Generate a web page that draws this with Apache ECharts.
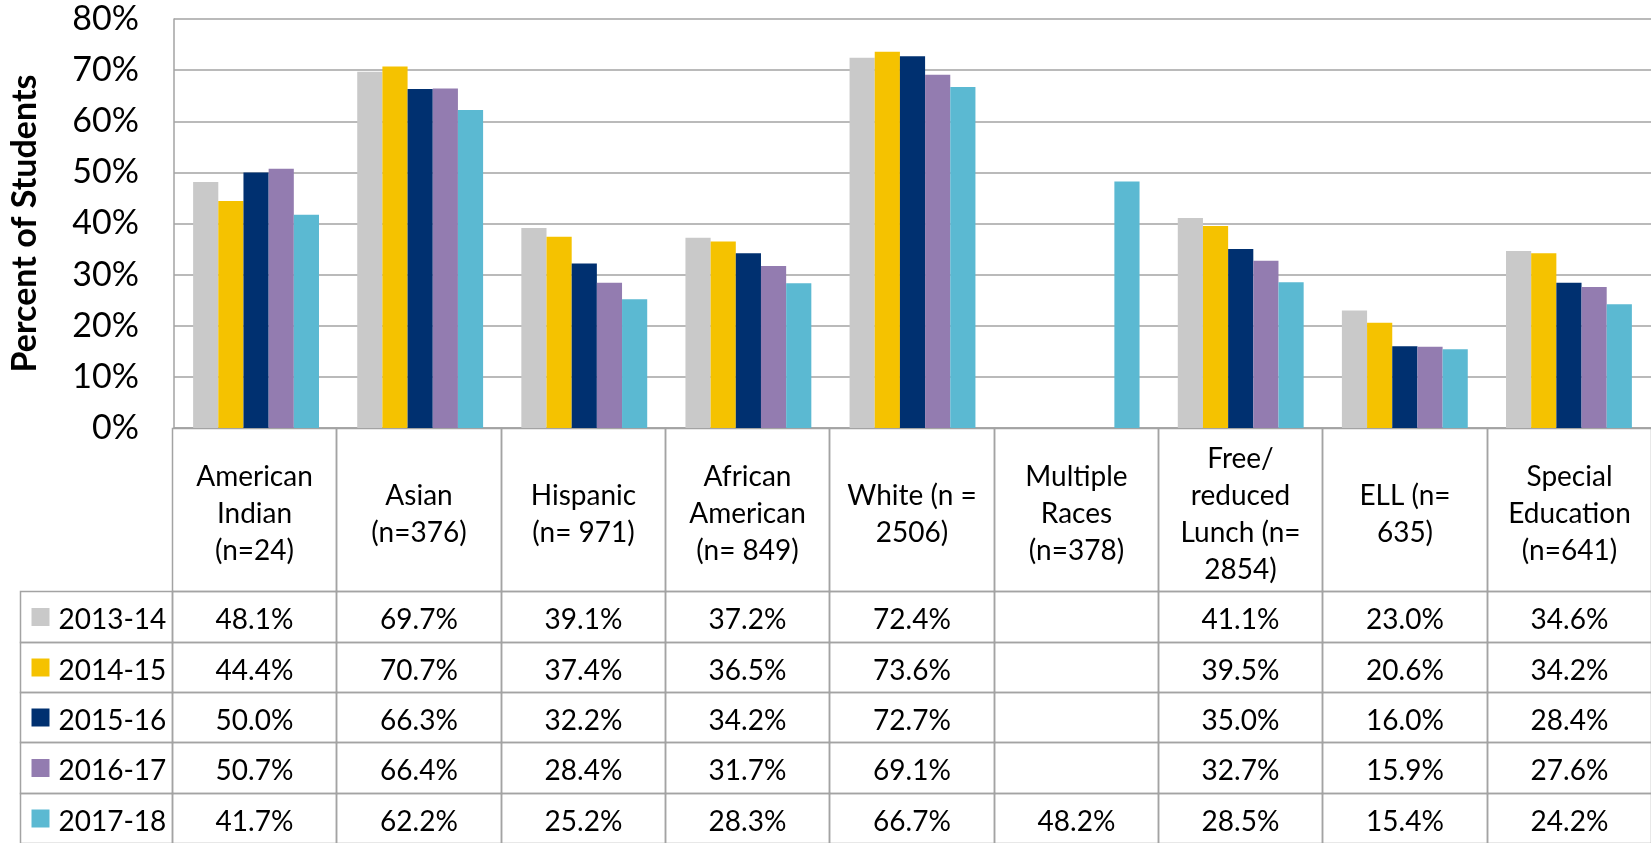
<!DOCTYPE html>
<html><head><meta charset="utf-8">
<script src="https://cdn.jsdelivr.net/npm/echarts@6/dist/echarts.min.js"></script>
<style>html,body{margin:0;padding:0;background:#fff}#c{width:1651px;height:843px}</style>
</head><body><div id="c"></div>
<script>
// ---- data ----
const categories = ["American\nIndian\n(n=24)", "Asian\n(n=376)", "Hispanic\n(n= 971)", "African\nAmerican\n(n= 849)", "White (n =\n2506)", "Multiple\nRaces\n(n=378)", "Free/\nreduced\nLunch (n=\n2854)", "ELL (n=\n635)", "Special\nEducation\n(n=641)"];
const years = ["2013-14", "2014-15", "2015-16", "2016-17", "2017-18"];
const v2013_14 = [48.1, 69.7, 39.1, 37.2, 72.4, null, 41.1, 23.0, 34.6];
const v2014_15 = [44.4, 70.7, 37.4, 36.5, 73.6, null, 39.5, 20.6, 34.2];
const v2015_16 = [50.0, 66.3, 32.2, 34.2, 72.7, null, 35.0, 16.0, 28.4];
const v2016_17 = [50.7, 66.4, 28.4, 31.7, 69.1, null, 32.7, 15.9, 27.6];
const v2017_18 = [41.7, 62.2, 25.2, 28.3, 66.7, 48.2, 28.5, 15.4, 24.2];
const yMin = 0, yMax = 80, yStep = 10;
const yTitle = "Percent of Students";

// ---- style ----
const seriesValues = [v2013_14, v2014_15, v2015_16, v2016_17, v2017_18];
const colors = ["#C9C9C9", "#F5C200", "#003070", "#937CB0", "#5BB9D2"];
const FONT = "Lato";
const LINE = "#a3a3a3";
const HEADER_H = 3.25;      // header row height in row units
const LEG_X = -153 / 165;   // legend column left edge in column units

const chart = echarts.init(document.getElementById('c'), null, {renderer: 'canvas'});

const tableData = [];
for (let r = -1; r < years.length; r++) {
  for (let c = -1; c < categories.length; c++) {
    if (r === -1 && c === -1) continue;
    tableData.push([c, r]);
  }
}

function renderCell(params, api) {
  const c = api.value(0), r = api.value(1);
  const x0 = c < 0 ? LEG_X : c, x1 = c < 0 ? 0 : c + 1;
  const y0 = r < 0 ? 0 : HEADER_H + r, y1 = r < 0 ? HEADER_H : HEADER_H + r + 1;
  const p0 = api.coord([x0, y0]), p1 = api.coord([x1, y1]);
  const X0 = Math.round(p0[0]) + 0.5, Y0 = Math.round(p0[1]) + 0.5;
  const X1 = Math.round(p1[0]) + 0.5, Y1 = Math.round(p1[1]) + 0.5;
  const cx = (X0 + X1) / 2, cy = (Y0 + Y1) / 2;
  const children = [{
    type: 'rect', silent: true,
    shape: {x: X0, y: Y0, width: X1 - X0, height: Y1 - Y0},
    style: {fill: null, stroke: LINE, lineWidth: 1.5}
  }];
  if (r < 0) {
    children.push({type: 'text', silent: true, style: {
      text: categories[c], x: cx, y: cy + 4, align: 'center', verticalAlign: 'middle',
      font: '28px ' + FONT, lineHeight: 37, fill: '#000'
    }});
  } else if (c < 0) {
    children.push({type: 'rect', silent: true,
      shape: {x: X0 + 11, y: cy - 9, width: 18, height: 18},
      style: {fill: colors[r]}});
    children.push({type: 'text', silent: true, style: {
      text: years[r], x: X0 + 38, y: cy + 3, align: 'left', verticalAlign: 'middle',
      font: '28px ' + FONT, fill: '#000'
    }});
  } else {
    const v = seriesValues[r][c];
    if (v != null) {
      children.push({type: 'text', silent: true, style: {
        text: v.toFixed(1) + '%', x: cx, y: cy + 3, align: 'center', verticalAlign: 'middle',
        font: '28px ' + FONT, fill: '#000'
      }});
    }
  }
  return {type: 'group', children};
}

const option = {
  backgroundColor: '#fff',
  animation: false,
  textStyle: {fontFamily: FONT},
  grid: [
    {left: 172, top: 19, width: 1485, height: 409},
    {left: 172, top: 428, width: 1485, height: 418.6}
  ],
  xAxis: [
    {type: 'category', gridIndex: 0, data: categories,
     axisLine: {show: true, lineStyle: {color: LINE, width: 1.5}},
     axisTick: {show: false}, axisLabel: {show: false}, splitLine: {show: false}},
    {type: 'value', gridIndex: 1, min: 0, max: 9, show: false}
  ],
  yAxis: [
    {type: 'value', gridIndex: 0, min: yMin, max: yMax, interval: yStep,
     name: yTitle, nameLocation: 'middle', nameGap: 132,
     nameTextStyle: {fontFamily: FONT, fontWeight: 'bold', fontSize: 34, color: '#000'},
     axisLine: {show: true, lineStyle: {color: LINE, width: 1.5}},
     axisTick: {show: false},
     axisLabel: {formatter: '{value}%', fontFamily: FONT, fontSize: 34, color: '#000', margin: 35},
     splitLine: {show: true, lineStyle: {color: LINE, width: 1.5}}},
    {type: 'value', gridIndex: 1, min: 0, max: HEADER_H + years.length, inverse: true, show: false}
  ],
  series: seriesValues.map((vals, i) => ({
    type: 'bar', name: years[i], xAxisIndex: 0, yAxisIndex: 0,
    data: vals, barGap: '0%', barCategoryGap: '23.3%',
    itemStyle: {color: colors[i]}
  })).concat([{
    type: 'custom', xAxisIndex: 1, yAxisIndex: 1, clip: false,
    data: tableData, renderItem: renderCell, silent: true
  }])
};
chart.setOption(option);
</script>
</body></html>
